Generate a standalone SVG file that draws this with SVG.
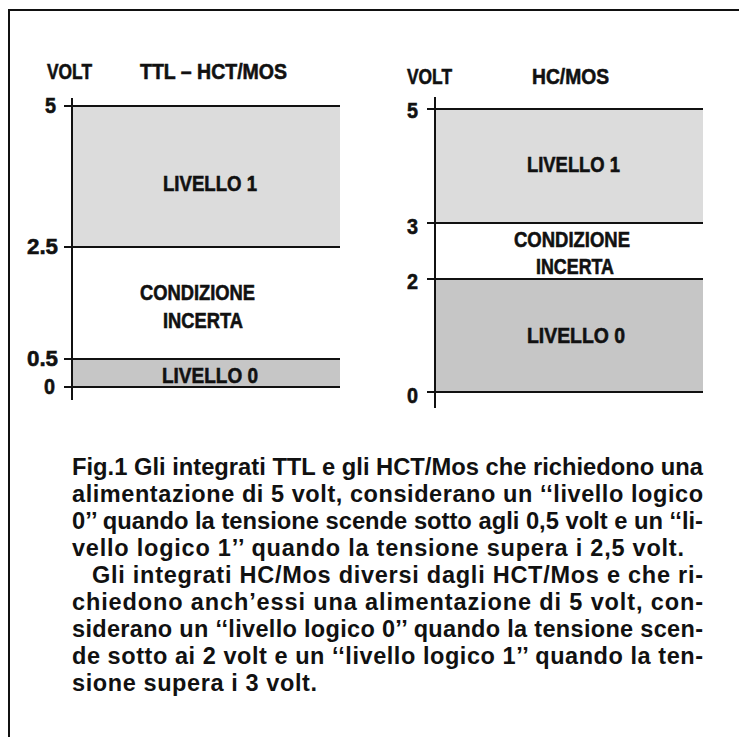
<svg xmlns="http://www.w3.org/2000/svg" width="739" height="737" viewBox="0 0 739 737">
<style>
.lbl{font-family:"Liberation Sans",Arial,sans-serif;font-weight:bold;font-size:22.5px;fill:#111;stroke:#111;stroke-width:0.6}
.cap{font-family:"Liberation Sans",Arial,sans-serif;font-weight:bold;font-size:23.5px;fill:#111}
.ln{stroke:#111;stroke-width:2;fill:none}
.l1{fill:#dcdcdc}
.l0{fill:#c6c6c6}
</style>
<rect width="739" height="737" fill="#fff"/>
<path class="ln" d="M9,737 V10 H739"/>
<g id="chart-ttl">
<rect class="l1" x="72" y="106" width="268" height="141"/>
<rect class="l0" x="72" y="359" width="268" height="28"/>
<path class="ln" d="M72,98 V400 M64,106 H340 M64,247 H340 M64,359 H340 M64,387 H340"/>
<text class="lbl" x="47" y="79" textLength="45" lengthAdjust="spacingAndGlyphs">VOLT</text>
<text class="lbl" x="140" y="79" textLength="147" lengthAdjust="spacingAndGlyphs">TTL – HCT/MOS</text>
<text class="lbl" x="45" y="113" textLength="11" lengthAdjust="spacingAndGlyphs">5</text>
<text class="lbl" x="27" y="254" textLength="31" lengthAdjust="spacingAndGlyphs">2.5</text>
<text class="lbl" x="27" y="366" textLength="31" lengthAdjust="spacingAndGlyphs">0.5</text>
<text class="lbl" x="44" y="394" textLength="11" lengthAdjust="spacingAndGlyphs">0</text>
<text class="lbl" x="163" y="191" textLength="94" lengthAdjust="spacingAndGlyphs">LIVELLO 1</text>
<text class="lbl" x="140" y="300" textLength="115" lengthAdjust="spacingAndGlyphs">CONDIZIONE</text>
<text class="lbl" x="163" y="328" textLength="80" lengthAdjust="spacingAndGlyphs">INCERTA</text>
<text class="lbl" x="162" y="383" textLength="96" lengthAdjust="spacingAndGlyphs">LIVELLO 0</text>
</g>
<g id="chart-hc">
<rect class="l1" x="435" y="109" width="268" height="114"/>
<rect class="l0" x="435" y="279" width="268" height="113"/>
<path class="ln" d="M435,97 V408 M427,109 H703 M427,223 H703 M427,279 H703 M427,392 H703"/>
<text class="lbl" x="407" y="84" textLength="45" lengthAdjust="spacingAndGlyphs">VOLT</text>
<text class="lbl" x="532" y="84" textLength="77" lengthAdjust="spacingAndGlyphs">HC/MOS</text>
<text class="lbl" x="407" y="118" textLength="11" lengthAdjust="spacingAndGlyphs">5</text>
<text class="lbl" x="407" y="234" textLength="11" lengthAdjust="spacingAndGlyphs">3</text>
<text class="lbl" x="407" y="289" textLength="11" lengthAdjust="spacingAndGlyphs">2</text>
<text class="lbl" x="407" y="403" textLength="11" lengthAdjust="spacingAndGlyphs">0</text>
<text class="lbl" x="527" y="172" textLength="93" lengthAdjust="spacingAndGlyphs">LIVELLO 1</text>
<text class="lbl" x="514" y="247" textLength="116" lengthAdjust="spacingAndGlyphs">CONDIZIONE</text>
<text class="lbl" x="536" y="274" textLength="78" lengthAdjust="spacingAndGlyphs">INCERTA</text>
<text class="lbl" x="527" y="343" textLength="98" lengthAdjust="spacingAndGlyphs">LIVELLO 0</text>
</g>
<g id="caption">
<text class="cap" x="72" y="475" textLength="631" lengthAdjust="spacingAndGlyphs">Fig.1 Gli integrati TTL e gli HCT/Mos che richiedono una</text>
<text class="cap" x="72" y="502" textLength="631">alimentazione di 5 volt, considerano un ‘‘livello logico</text>
<text class="cap" x="72" y="529" textLength="631" lengthAdjust="spacingAndGlyphs">0’’ quando la tensione scende sotto agli 0,5 volt e un ‘‘li-</text>
<text class="cap" x="72" y="556" textLength="612">vello logico 1’’ quando la tensione supera i 2,5 volt.</text>
<text class="cap" x="92" y="583" textLength="611">Gli integrati HC/Mos diversi dagli HCT/Mos e che ri-</text>
<text class="cap" x="72" y="610" textLength="631">chiedono anch’essi una alimentazione di 5 volt, con-</text>
<text class="cap" x="72" y="637" textLength="631">siderano un ‘‘livello logico 0’’ quando la tensione scen-</text>
<text class="cap" x="72" y="664" textLength="631">de sotto ai 2 volt e un ‘‘livello logico 1’’ quando la ten-</text>
<text class="cap" x="72" y="691" textLength="245">sione supera i 3 volt.</text>
</g>
</svg>
